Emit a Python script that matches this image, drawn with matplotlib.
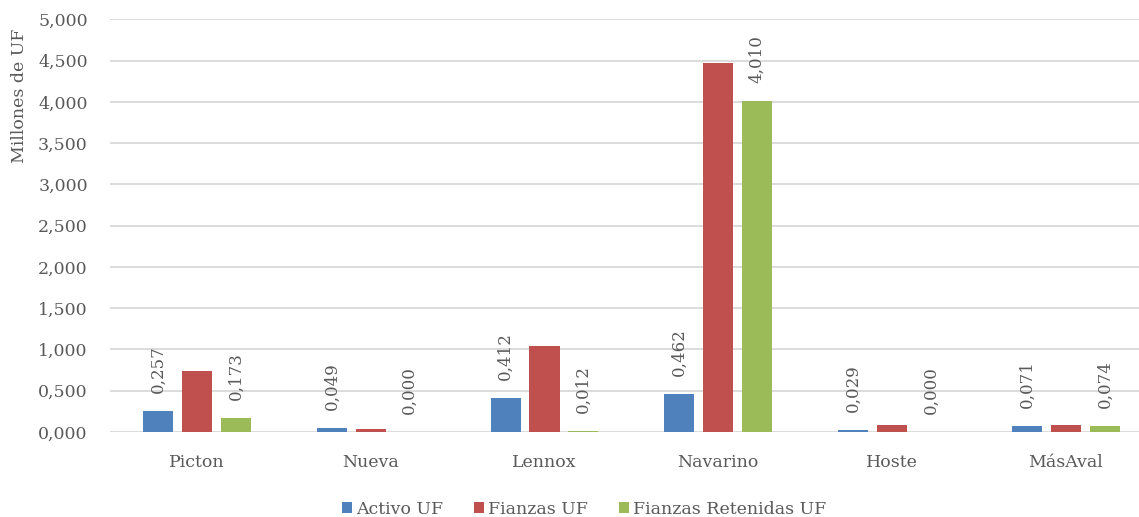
import matplotlib.pyplot as plt
import numpy as np

categories = ['Picton', 'Nueva', 'Lennox', 'Navarino', 'Hoste', 'MásAval']
activo = [0.257, 0.049, 0.412, 0.462, 0.029, 0.071]
fianzas = [0.74, 0.04, 1.04, 4.47, 0.09, 0.08]
retenidas = [0.173, 0.000, 0.012, 4.010, 0.000, 0.074]

plt.rcParams['font.family'] = ['DejaVu Serif']
gray = '#595959'

def fmt(v):
    return '{:.3f}'.format(v).replace('.', ',')

fig = plt.figure(figsize=(11.39, 5.17), dpi=100)
ax = fig.add_axes([110/1139, 85/517, 1029/1139, 412.7/517])

x = np.arange(len(categories))
off = 0.224
w = 0.173
series = [(activo, '#4F81BD', 'Activo UF', True),
          (fianzas, '#C0504D', 'Fianzas UF', False),
          (retenidas, '#9BBB59', 'Fianzas Retenidas UF', True)]
for i, (vals, col, lab, show) in enumerate(series):
    bars = ax.bar(x + (i - 1) * off, vals, w, color=col, label=lab, zorder=3)
    if show:
        for b, v in zip(bars, vals):
            ax.annotate(fmt(v), (b.get_x() + b.get_width() / 2, v),
                        xytext=(0, 13), textcoords='offset points',
                        rotation=90, ha='center', va='bottom',
                        fontsize=12, color=gray)

ax.set_xlim(-0.5, -0.5 + 1029 / 173.8)
ax.set_ylim(0, 5)
ax.set_yticks(np.arange(0, 5.01, 0.5))
ax.set_yticklabels([fmt(t) for t in np.arange(0, 5.01, 0.5)])
ax.set_xticks(x)
ax.set_xticklabels(categories)
ax.tick_params(length=0, labelsize=12.5, colors=gray)
ax.tick_params(axis='x', pad=16)
ax.tick_params(axis='y', pad=16)
ax.grid(axis='y', color='#D9D9D9', linewidth=1.3, zorder=0)
for s in ax.spines.values():
    s.set_visible(False)

# y title sits near the top, as in the source chart
fig.text(20/1139, 1 - 96/517, 'Millones de UF', rotation=90, ha='center', va='center',
         fontsize=12.5, color=gray)

ax.legend(loc='center', bbox_to_anchor=(584/1139, 8/517), bbox_transform=fig.transFigure,
          ncol=3, frameon=False, fontsize=12.5, labelcolor=gray,
          handlelength=0.6, handleheight=0.6, handletextpad=0.2, columnspacing=1.8)

fig.savefig('out.png', dpi=100)
